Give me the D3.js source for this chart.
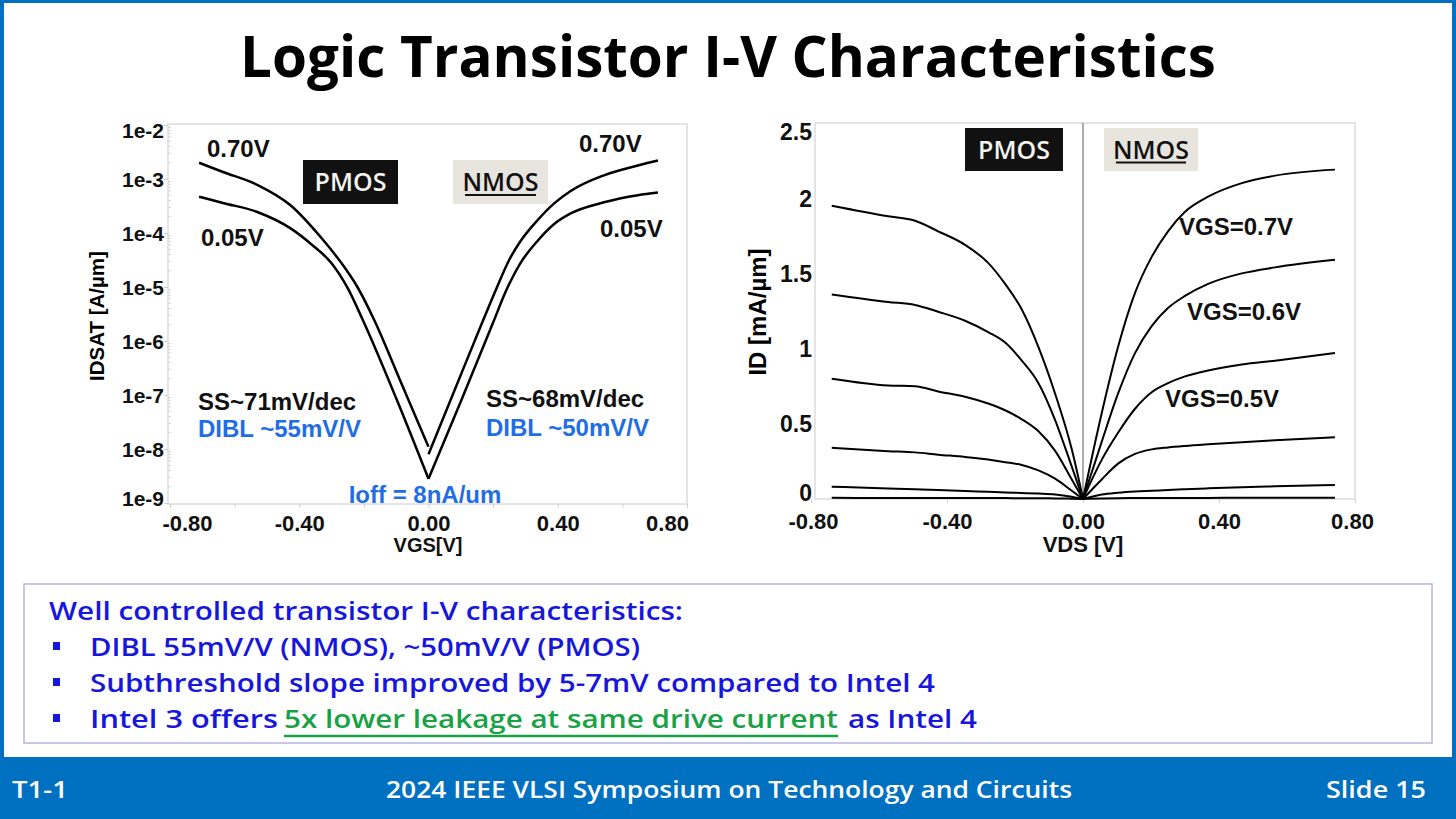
<!DOCTYPE html>
<html>
<head>
<meta charset="utf-8">
<script src="https://cdn.jsdelivr.net/npm/d3@7"></script>
<style>
  html, body { margin: 0; padding: 0; background: #fff; }
  svg { display: block; }
  .ax text { font-family: "Liberation Sans", Arial, sans-serif; font-weight: bold; fill: #111; }
  .ax path, .ax line { stroke: #cfcfcf; }
</style>
</head>
<body>
<script>
// ---- left chart: IDSAT vs VGS (log scale), values in A/um ----
const yTicksLeft = [1e-2, 1e-3, 1e-4, 1e-5, 1e-6, 1e-7, 1e-8, 1e-9];
const xTicks = [-0.8, -0.4, 0, 0.4, 0.8];

const pmosVgsHi = [-0.71, -0.636, -0.53, -0.428, -0.326, -0.27, -0.22, -0.168, -0.09, 0];
const pmosIdHi = [2.0e-3, 1.35e-3, 7.8e-4, 3.3e-4, 7.4e-5, 2.8e-5, 1.0e-5, 2.45e-6, 2.0e-7, 1.1e-8];   // VDS 0.70V
const pmosVgsLo = [-0.71, -0.636, -0.53, -0.428, -0.36, -0.3, -0.25, -0.204, -0.1, 0];
const pmosIdLo = [4.7e-4, 3.6e-4, 2.45e-4, 1.23e-4, 6.0e-5, 2.75e-5, 9.5e-6, 2.5e-6, 8.7e-8, 2.8e-9]; // VDS 0.05V

const nmosVgsHi = [0, 0.08, 0.17, 0.21, 0.25, 0.285, 0.338, 0.388, 0.44, 0.543, 0.648, 0.71];
const nmosIdHi = [8e-9, 1.2e-7, 2.5e-6, 9.3e-6, 3.2e-5, 7.1e-5, 1.74e-4, 3.5e-4, 6.0e-4, 1.17e-3, 1.78e-3, 2.2e-3];
const nmosVgsLo = [0, 0.1, 0.2, 0.24, 0.285, 0.338, 0.388, 0.44, 0.543, 0.648, 0.71];
const nmosIdLo = [2.8e-9, 7.6e-8, 2.2e-6, 8.5e-6, 2.8e-5, 7.2e-5, 1.45e-4, 2.3e-4, 3.7e-4, 5.0e-4, 5.6e-4];

// ---- right chart: ID vs VDS, values in mA/um ----
const yTicksRight = [0, 0.5, 1, 1.5, 2, 2.5];
const nmosVds = [0, 0.055, 0.103, 0.153, 0.202, 0.25, 0.30, 0.368, 0.467, 0.565, 0.741];
const nmosId07 = [0, 0.57, 1.01, 1.37, 1.61, 1.78, 1.91, 2.01, 2.10, 2.15, 2.19];
const nmosId06 = [0, 0.38, 0.70, 0.97, 1.15, 1.27, 1.35, 1.43, 1.50, 1.54, 1.59];
const nmosId05 = [0, 0.26, 0.44, 0.60, 0.71, 0.77, 0.815, 0.855, 0.895, 0.92, 0.97];
const nmosId04 = [0, 0.13, 0.235, 0.30, 0.33, 0.343, 0.353, 0.364, 0.378, 0.39, 0.41];
const nmosId03 = [0, 0.03, 0.042, 0.05, 0.055, 0.06, 0.065, 0.071, 0.078, 0.084, 0.093];
const nmosId02 = [0, 0.003, 0.005, 0.006, 0.006, 0.007, 0.007, 0.007, 0.008, 0.008, 0.008];

const pmosVds = [0, -0.033, -0.082, -0.131, -0.18, -0.229, -0.279, -0.347, -0.426, -0.494, -0.573, -0.739];
const pmosId07 = [0, 0.33, 0.70, 1.01, 1.26, 1.43, 1.57, 1.69, 1.78, 1.85, 1.88, 1.95];
const pmosId06 = [0, 0.215, 0.525, 0.77, 0.92, 1.04, 1.11, 1.185, 1.245, 1.29, 1.31, 1.36];
const pmosId05 = [0, 0.13, 0.32, 0.45, 0.53, 0.59, 0.635, 0.68, 0.715, 0.75, 0.755, 0.80];
const pmosId04 = [0, 0.055, 0.135, 0.19, 0.226, 0.245, 0.262, 0.28, 0.295, 0.31, 0.318, 0.34];
const pmosId03 = [0, 0.015, 0.03, 0.036, 0.04, 0.044, 0.048, 0.053, 0.06, 0.065, 0.07, 0.082];
const pmosId02 = [0, 0.002, 0.004, 0.005, 0.005, 0.006, 0.006, 0.006, 0.007, 0.007, 0.007, 0.008];

const bullets = [
  "DIBL 55mV/V (NMOS), ~50mV/V (PMOS)",
  "Subthreshold slope improved by 5-7mV compared to Intel 4"
];

const W = 1456, H = 819;
const blue = "#0070c0";
const arial = '"Liberation Sans", Arial, sans-serif';
const slideFont = '"Open Sans", "Noto Sans", sans-serif';

const svg = d3.select("body").append("svg")
  .attr("width", W).attr("height", H);

// slide frame + footer band
svg.append("rect").attr("width", W).attr("height", H).attr("fill", blue);
svg.append("rect").attr("x", 4).attr("y", 3).attr("width", W - 8).attr("height", 754).attr("fill", "#fff");

svg.append("text")
  .attr("x", 728).attr("y", 77)
  .attr("text-anchor", "middle")
  .attr("font-family", slideFont).attr("font-weight", 700).attr("font-size", 57)
  .attr("textLength", 976).attr("lengthAdjust", "spacingAndGlyphs")
  .attr("fill", "#000")
  .text("Logic Transistor I-V Characteristics");

function zip(xs, ys) { return xs.map((x, i) => [x, ys[i]]); }

function tag(g, x, y, w, h, label, dark) {
  g.append("rect").attr("x", x).attr("y", y).attr("width", w).attr("height", h)
    .attr("fill", dark ? "#111" : "#e8e5de");
  g.append("text").attr("x", x + w / 2).attr("y", y + h / 2 + 9)
    .attr("text-anchor", "middle")
    .attr("font-family", slideFont).attr("font-weight", 600).attr("font-size", 25)
    .attr("fill", dark ? "#f4f4ee" : "#111")
    .text(label);
  if (!dark) {
    g.append("line").attr("x1", x + 12).attr("x2", x + w - 12)
      .attr("y1", y + h / 2 + 13).attr("y2", y + h / 2 + 13)
      .attr("stroke", "#111").attr("stroke-width", 2);
  }
}

function note(g, x, y, txt, color, anchor, size) {
  g.append("text").attr("x", x).attr("y", y)
    .attr("text-anchor", anchor || "start")
    .attr("font-family", arial).attr("font-weight", "bold").attr("font-size", size || 24)
    .attr("fill", color || "#111")
    .text(txt);
}

// ================= left chart =================
const xL = d3.scaleLinear().domain([-0.8, 0.8]).range([170, 687]);
const yL = d3.scaleLog().domain([1e-9, 1e-2]).range([503, 125]);
const left = svg.append("g");

left.append("rect").attr("x", 168).attr("y", 124).attr("width", 519).attr("height", 380)
  .attr("fill", "none").attr("stroke", "#dcdcdc").attr("stroke-width", 1.5);

// minor log ticks
const minor = [];
for (let e = -9; e < -2; e++) for (let k = 2; k < 10; k++) minor.push(k * Math.pow(10, e));
left.selectAll(".mt").data(minor).enter().append("line")
  .attr("x1", 168).attr("x2", 171)
  .attr("y1", d => yL(d)).attr("y2", d => yL(d))
  .attr("stroke", "#d6d6d6");

const yAxL = left.append("g").attr("class", "ax")
  .attr("transform", "translate(168,0)")
  .call(d3.axisLeft(yL).tickValues(yTicksLeft).tickSize(4).tickPadding(0)
    .tickFormat(d => "1e" + Math.round(Math.log10(d))));
yAxL.select(".domain").remove();
yAxL.selectAll("text").attr("font-size", 21)
  .attr("dy", d => d === 1e-2 ? "0.6em" : d === 1e-9 ? "0.1em" : "0.35em");

const xAxL = left.append("g").attr("class", "ax")
  .attr("transform", "translate(0,504)")
  .call(d3.axisBottom(xL).tickValues(d3.range(-0.8, 0.81, 0.2)).tickSize(4).tickPadding(7)
    .tickFormat(d => Math.abs(Math.round(d * 10)) % 4 === 0 ? (Math.abs(d) < 1e-9 ? 0 : d).toFixed(2) : ""));
xAxL.select(".domain").remove();
xAxL.selectAll("text").attr("font-size", 22)
  .attr("dx", d => d < -0.7 ? 17 : d > 0.7 ? -20 : 0);

note(left, 428, 552, "VGS[V]", "#111", "middle", 20);
left.append("text")
  .attr("transform", "translate(104,316) rotate(-90)")
  .attr("text-anchor", "middle")
  .attr("font-family", arial).attr("font-weight", "bold").attr("font-size", 20.5)
  .text("IDSAT [A/µm]");

const lineL = d3.line().x(d => xL(d[0])).y(d => yL(d[1])).curve(d3.curveMonotoneX);
[zip(pmosVgsHi, pmosIdHi), zip(pmosVgsLo, pmosIdLo), zip(nmosVgsHi, nmosIdHi), zip(nmosVgsLo, nmosIdLo)]
  .forEach(s => {
    left.append("path").datum(s).attr("d", lineL)
      .attr("fill", "none").attr("stroke", "#000").attr("stroke-width", 2.5);
  });

tag(left, 303, 160, 95, 44, "PMOS", true);
tag(left, 453, 160, 95, 44, "NMOS", false);
note(left, 207, 156.5, "0.70V");
note(left, 201, 245.5, "0.05V");
note(left, 579, 151.5, "0.70V");
note(left, 600, 236.5, "0.05V");
note(left, 198, 409.5, "SS~71mV/dec");
note(left, 198, 436.5, "DIBL ~55mV/V", "#1f6ee6");
note(left, 486, 406.5, "SS~68mV/dec");
note(left, 486, 435.5, "DIBL ~50mV/V", "#1f6ee6");
note(left, 425, 502.5, "Ioff = 8nA/um", "#1f6ee6", "middle");

// ================= right chart =================
const xR = d3.scaleLinear().domain([-0.8, 0.8]).range([811, 1355]);
const yR = d3.scaleLinear().domain([0, 2.5]).range([499, 123]);
const right = svg.append("g");

right.append("rect").attr("x", 815).attr("y", 123).attr("width", 540).attr("height", 376)
  .attr("fill", "none").attr("stroke", "#dcdcdc").attr("stroke-width", 1.5);
right.append("line")
  .attr("x1", xR(0)).attr("x2", xR(0)).attr("y1", yR(2.5)).attr("y2", yR(0))
  .attr("stroke", "#777").attr("stroke-width", 1.2);

const yAxR = right.append("g").attr("class", "ax")
  .attr("transform", "translate(815,0)")
  .call(d3.axisLeft(yR).tickValues(yTicksRight).tickSize(0).tickPadding(3)
    .tickFormat(d3.format("~g")));
yAxR.select(".domain").remove();
yAxR.selectAll("text").attr("font-size", 23)
  .attr("dy", d => d === 2.5 ? "0.7em" : d === 0 ? "0.05em" : "0.35em");

const xAxR = right.append("g").attr("class", "ax")
  .attr("transform", "translate(0,499)")
  .call(d3.axisBottom(xR).tickValues(xTicks).tickSize(4).tickPadding(10)
    .tickFormat(d => (Math.abs(d) < 1e-9 ? 0 : d).toFixed(2)));
xAxR.select(".domain").remove();
xAxR.selectAll("text").attr("font-size", 22)
  .attr("dx", d => d < -0.7 ? 2 : d > 0.7 ? -3 : 0);

note(right, 1083, 552, "VDS [V]", "#111", "middle", 22);
right.append("text")
  .attr("transform", "translate(766,312) rotate(-90)")
  .attr("text-anchor", "middle")
  .attr("font-family", arial).attr("font-weight", "bold").attr("font-size", 24)
  .text("ID [mA/µm]");

const lineR = d3.line().x(d => xR(d[0])).y(d => yR(d[1])).curve(d3.curveMonotoneX);
const nmosSets = [nmosId07, nmosId06, nmosId05, nmosId04, nmosId03, nmosId02];
const pmosSets = [pmosId07, pmosId06, pmosId05, pmosId04, pmosId03, pmosId02];
nmosSets.forEach(ys => {
  right.append("path").datum(zip(nmosVds, ys)).attr("d", lineR)
    .attr("fill", "none").attr("stroke", "#000").attr("stroke-width", 2);
});
pmosSets.forEach(ys => {
  const pts = zip(pmosVds, ys).sort((a, b) => a[0] - b[0]);
  right.append("path").datum(pts).attr("d", lineR)
    .attr("fill", "none").attr("stroke", "#000").attr("stroke-width", 2);
});

tag(right, 965, 128, 98, 43, "PMOS", true);
tag(right, 1104, 128, 94, 43, "NMOS", false);
note(right, 1236, 234.5, "VGS=0.7V", "#111", "middle");
note(right, 1244, 319.5, "VGS=0.6V", "#111", "middle");
note(right, 1222, 406.5, "VGS=0.5V", "#111", "middle");

// ================= takeaway box =================
const box = svg.append("g");
const txtBlue = "#1616dc";
box.append("rect").attr("x", 24).attr("y", 584).attr("width", 1408).attr("height", 159)
  .attr("fill", "#fff").attr("stroke", "#b4b4e2").attr("stroke-width", 1.5);

function slideText(g, x, y, s, len, color) {
  return g.append("text").attr("x", x).attr("y", y)
    .attr("font-family", slideFont).attr("font-weight", 600).attr("font-size", 26)
    .attr("textLength", len).attr("lengthAdjust", "spacingAndGlyphs")
    .attr("fill", color).text(s);
}
slideText(box, 49, 620, "Well controlled transistor I-V characteristics:", 634, txtBlue);
const rowY = [656, 692, 728];
rowY.forEach(y => {
  box.append("rect").attr("x", 53).attr("y", y - 14).attr("width", 7).attr("height", 8).attr("fill", txtBlue);
});
slideText(box, 90, rowY[0], bullets[0], 550, txtBlue);
slideText(box, 90, rowY[1], bullets[1], 845, txtBlue);
slideText(box, 90, rowY[2], "Intel 3 offers", 188, txtBlue);
slideText(box, 284, rowY[2], "5x lower leakage at same drive current", 554, "#19a245");
box.append("line").attr("x1", 284).attr("x2", 838).attr("y1", 736).attr("y2", 736)
  .attr("stroke", "#19a245").attr("stroke-width", 2.5);
slideText(box, 848, rowY[2], "as Intel 4", 129, txtBlue);

// ================= footer =================
const foot = svg.append("g");
function footText(x, s, len, anchor) {
  foot.append("text").attr("x", x).attr("y", 798)
    .attr("text-anchor", anchor)
    .attr("font-family", slideFont).attr("font-weight", 600).attr("font-size", 24)
    .attr("textLength", len).attr("lengthAdjust", "spacingAndGlyphs")
    .attr("fill", "#fff").text(s);
}
footText(12, "T1-1", 56, "start");
footText(729, "2024 IEEE VLSI Symposium on Technology and Circuits", 686, "middle");
footText(1426, "Slide 15", 100, "end");
</script>
</body>
</html>
